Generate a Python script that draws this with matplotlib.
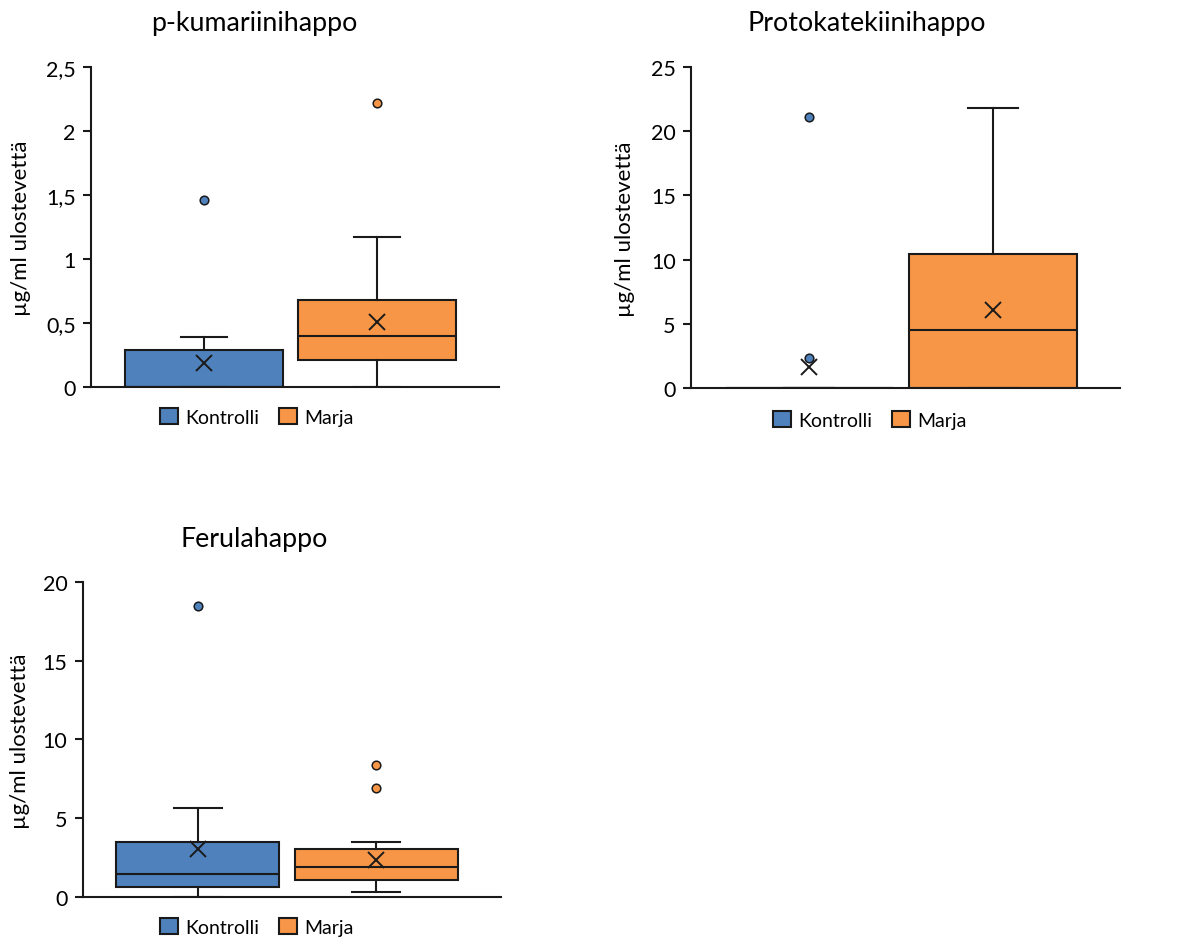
import matplotlib
matplotlib.use("Agg")
import matplotlib.pyplot as plt
from matplotlib.patches import Patch

plt.rcParams['font.family'] = ['Lato', 'DejaVu Sans']

# Tiedot luettu kuvasta: kullekin paneelille [Kontrolli, Marja]
titles = ["p-kumariinihappo", "Protokatekiinihappo", "Ferulahappo"]
groups = ["Kontrolli", "Marja"]
colors = ["#4f81bd", "#f79646"]

q1 = [[0, 0.21], [0, 0], [0.64, 1.06]]
median = [[0, 0.40], [0, 4.53], [1.42, 1.91]]
q3 = [[0.29, 0.68], [0, 10.41], [3.46, 3.03]]
whisker_low = [[0, 0], [0, 0], [0, 0.32]]
whisker_high = [[0.39, 1.17], [0, 21.78], [5.62, 3.46]]
means = [[0.19, 0.51], [1.63, 6.11], [3.03, 2.35]]
outliers = [[[1.46], [2.22]], [[21.1, 2.35], []], [[18.5], [8.4, 6.89]]]

yticks = [[0, 0.5, 1, 1.5, 2, 2.5], [0, 5, 10, 15, 20, 25], [0, 5, 10, 15, 20]]
ytick_labels = [["0", "0,5", "1", "1,5", "2", "2,5"],
                ["0", "5", "10", "15", "20", "25"],
                ["0", "5", "10", "15", "20"]]
ylabel = "µg/ml ulostevettä"

# asettelu (kuvan mittasuhteina)
axes_pos = [[0.0771, 0.5894, 0.3455, 0.3386],
            [0.5851, 0.5880, 0.3633, 0.3404],
            [0.0700, 0.0501, 0.3542, 0.3327]]
title_pos = [(254 / 1181, 1 - 24 / 945), (867 / 1181, 1 - 23 / 945), (254 / 1181, 1 - 540 / 945)]
ylabel_pos = [(21 / 1181, 1 - 228 / 945), (625 / 1181, 1 - 229 / 945), (20 / 1181, 1 - 741 / 945)]
legend_pos = [(257 / 1181, 1 - 418 / 945), (870 / 1181, 1 - 421 / 945), (257 / 1181, 1 - 928 / 945)]
xlims = [(0.347, 2.705), (0.357, 2.69), (0.356, 2.698)]

edge = "#1a1a1a"
fig = plt.figure(figsize=(11.81, 9.45), dpi=100)

for i in range(3):
    ax = fig.add_axes(axes_pos[i])
    stats = []
    for j in range(2):
        stats.append(dict(q1=q1[i][j], med=median[i][j], q3=q3[i][j],
                          whislo=whisker_low[i][j], whishi=whisker_high[i][j],
                          mean=means[i][j], fliers=outliers[i][j]))
    bp = ax.bxp(stats, positions=[1, 2], widths=0.91, capwidths=0.27,
                patch_artist=True, showmeans=True,
                boxprops=dict(edgecolor=edge, linewidth=1.5),
                medianprops=dict(color=edge, linewidth=1.5),
                whiskerprops=dict(color=edge, linewidth=1.5),
                capprops=dict(color=edge, linewidth=1.5),
                meanprops=dict(marker="x", markersize=12, markeredgecolor=edge,
                               markeredgewidth=1.4),
                flierprops=dict(marker="o", markersize=6.2, markeredgecolor=edge,
                                markeredgewidth=1.1))
    for j in range(2):
        bp["boxes"][j].set_facecolor(colors[j])
        bp["fliers"][j].set_markerfacecolor(colors[j])

    ax.set_xlim(*xlims[i])
    ax.set_ylim(yticks[i][0], yticks[i][-1])
    ax.set_yticks(yticks[i])
    ax.set_yticklabels(ytick_labels[i])
    ax.set_xticks([])
    for s in ["top", "right"]:
        ax.spines[s].set_visible(False)
    for s in ["left", "bottom"]:
        ax.spines[s].set_linewidth(1.5)
        ax.spines[s].set_color(edge)
    ax.tick_params(axis="y", direction="out", length=6, width=1.5, color=edge,
                   labelsize=15.5, pad=5)
    ax.patch.set_alpha(0)

    fig.text(*title_pos[i], titles[i], ha="center", va="center", fontsize=19.3)
    fig.text(*ylabel_pos[i], ylabel, ha="center", va="center", rotation=90, fontsize=16)

    handles = [Patch(facecolor=colors[j], edgecolor=edge, linewidth=1.5, label=groups[j])
               for j in range(2)]
    fig.legend(handles=handles, loc="center", bbox_to_anchor=legend_pos[i], ncol=2,
               frameon=False, fontsize=14, handlelength=0.9, handleheight=0.9,
               handletextpad=0.4, columnspacing=1.0)

fig.savefig("out.png", dpi=100)
